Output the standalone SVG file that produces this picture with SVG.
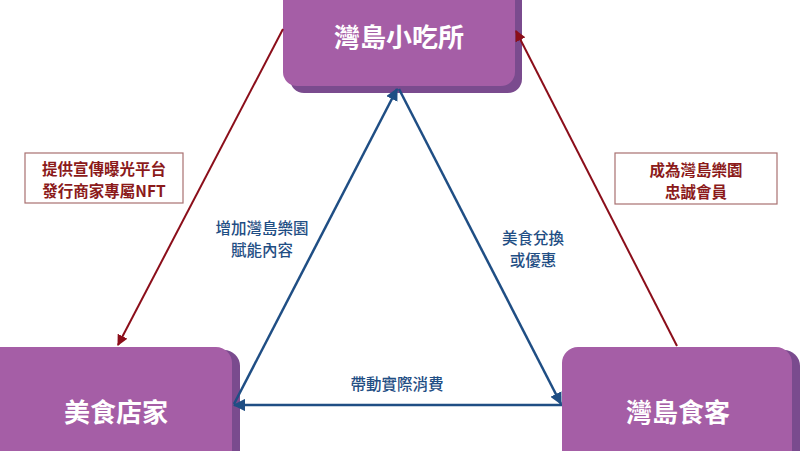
<svg xmlns="http://www.w3.org/2000/svg" width="800" height="451" viewBox="0 0 800 451">
<style>
.front{fill:#a55ea6}
.side{fill:#7a4b8e}
.ntext{font-family:"Noto Sans CJK TC","Noto Sans CJK SC",sans-serif;font-weight:bold;font-size:26px;fill:#ffffff;text-anchor:middle;dominant-baseline:central}
.blue{stroke:#1f4e84;stroke-width:2.5;fill:none}
.red{stroke:#8b0e1a;stroke-width:2;fill:none}
.btext{font-family:"Noto Sans CJK TC","Noto Sans CJK SC",sans-serif;font-weight:500;font-size:15.5px;fill:#1f4e84;text-anchor:middle;dominant-baseline:central}
.rtext{font-family:"Noto Sans CJK TC","Noto Sans CJK SC",sans-serif;font-weight:bold;font-size:15.5px;fill:#8b1a1a;text-anchor:middle;dominant-baseline:central}
.lbox{fill:#ffffff;stroke:#a87070;stroke-width:1.2}
</style>
<defs>
<marker id="ab" viewBox="0 0 10 10" refX="9" refY="5" markerWidth="5" markerHeight="5" orient="auto" markerUnits="strokeWidth">
<path d="M0,0 L10,5 L0,10 Z" fill="#1f4e84"/>
</marker>
<marker id="ar" viewBox="0 0 10 10" refX="9" refY="5" markerWidth="5.5" markerHeight="5.5" orient="auto" markerUnits="strokeWidth">
<path d="M0,0 L10,5 L0,10 Z" fill="#8b0e1a"/>
</marker>
</defs>
<rect width="800" height="451" fill="#ffffff"/>
<g id="node-top">
<rect class="side" x="290" y="-30" width="232" height="123" rx="14"/>
<rect class="front" x="283" y="-30" width="232" height="116" rx="14"/>
<text class="ntext" x="399" y="35">灣島小吃所</text>
</g>
<g id="node-left">
<rect class="side" x="-7" y="350" width="247" height="130" rx="16"/>
<rect class="front" x="-14" y="347" width="246" height="130" rx="16"/>
<text class="ntext" x="116" y="410">美食店家</text>
</g>
<g id="node-right">
<rect class="side" x="569" y="350" width="231" height="130" rx="16"/>
<rect class="front" x="562" y="347" width="230" height="130" rx="16"/>
<text class="ntext" x="678" y="410">灣島食客</text>
</g>
<g id="connectors">
<line class="blue" x1="234" y1="404" x2="397" y2="89" marker-end="url(#ab)"/>
<line class="blue" x1="399" y1="89" x2="561" y2="404" marker-end="url(#ab)"/>
<line class="blue" x1="562" y1="405" x2="234" y2="405" marker-end="url(#ab)"/>
<line class="red" x1="283" y1="29" x2="118" y2="345" marker-end="url(#ar)"/>
<line class="red" x1="677" y1="346" x2="516" y2="31" marker-end="url(#ar)"/>
</g>
<g id="label-left">
<rect class="lbox" x="25" y="153" width="158" height="50"/>
<text class="rtext" x="104" y="167.5">提供宣傳曝光平台</text>
<text class="rtext" x="104" y="189.5">發行商家專屬NFT</text>
</g>
<g id="label-right">
<rect class="lbox" x="615" y="153" width="162" height="51"/>
<text class="rtext" x="696" y="168.5">成為灣島樂園</text>
<text class="rtext" x="696" y="190.5">忠誠會員</text>
</g>
<g id="label-blue">
<text class="btext" x="262" y="227">增加灣島樂園</text>
<text class="btext" x="262" y="249">賦能內容</text>
<text class="btext" x="533" y="237">美食兌換</text>
<text class="btext" x="533" y="259">或優惠</text>
<text class="btext" x="397" y="383">帶動實際消費</text>
</g>
</svg>
